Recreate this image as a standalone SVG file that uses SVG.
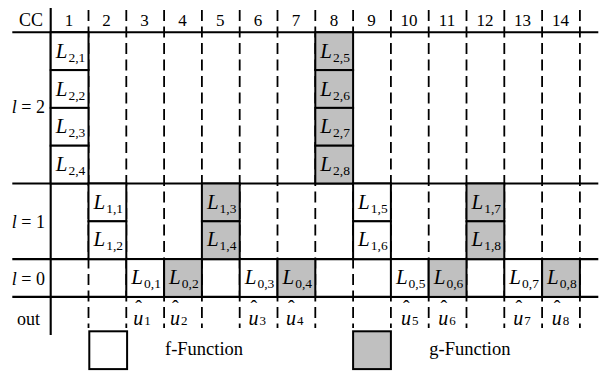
<svg xmlns="http://www.w3.org/2000/svg" width="605" height="372" viewBox="0 0 605 372">
<style>
text{font-family:"Liberation Serif","Times New Roman",serif;fill:#000}
.hd{font-size:17px;text-anchor:middle}
.lbl{font-size:18px}
.it{font-style:italic}
.cell{stroke:#000;stroke-width:2}
.f{fill:#fff}
.g{fill:#c0c0c0}
.L{font-size:21px;text-anchor:middle}
.sub{font-size:13.5px;font-style:normal}
.main{stroke:#000;stroke-width:2.1;fill:none}
.dash{stroke:#000;stroke-width:1.8;stroke-dasharray:11 5.5;fill:none}
.u{font-size:20px;font-style:italic}
.usub{font-size:13px;font-style:normal}
.hat{font-size:20px}
</style>
<rect width="605" height="372" fill="#fff"/>
<g id="grid-lines">
<path class="dash" d="M88.5 10V328M126.3 10V328M164.1 10V328M201.9 10V328M239.7 10V328M277.5 10V328M315.3 10V328M353.1 10V328M390.9 10V328M428.7 10V328M466.5 10V328M504.3 10V328M542.1 10V328M579.9 10V328"/>
<path class="main" d="M50.7 8V335M12.3 32.3H598.3M12.3 183.5H598.3M12.3 259.1H598.3M12.3 296.9H598.3"/>
</g>
<g id="header">
<text class="hd" x="31" y="25.5" style="font-size:18px">CC</text>
<text class="hd" x="69" y="25.5">1</text>
<text class="hd" x="106.5" y="25.5">2</text>
<text class="hd" x="144.5" y="25.5">3</text>
<text class="hd" x="182.5" y="25.5">4</text>
<text class="hd" x="220.3" y="25.5">5</text>
<text class="hd" x="258" y="25.5">6</text>
<text class="hd" x="296" y="25.5">7</text>
<text class="hd" x="334" y="25.5">8</text>
<text class="hd" x="371.5" y="25.5">9</text>
<text class="hd" x="409" y="25.5">10</text>
<text class="hd" x="447" y="25.5">11</text>
<text class="hd" x="485" y="25.5">12</text>
<text class="hd" x="522.5" y="25.5">13</text>
<text class="hd" x="560.5" y="25.5">14</text>
</g>
<g id="row-labels">
<text class="lbl" x="45" y="112.5" text-anchor="end"><tspan class="it">l</tspan> = 2</text>
<text class="lbl" x="45" y="227.5" text-anchor="end"><tspan class="it">l</tspan> = 1</text>
<text class="lbl" x="45" y="285" text-anchor="end"><tspan class="it">l</tspan> = 0</text>
<text class="lbl" x="17" y="325">out</text>
</g>
<g id="L2_1"><rect class="cell f" x="50.7" y="32.3" width="37.8" height="37.8"/><text class="L" x="70.5" y="57.8"><tspan class="it">L</tspan><tspan class="sub" dx="1" dy="4">2,1</tspan></text></g>
<g id="L2_2"><rect class="cell f" x="50.7" y="70.1" width="37.8" height="37.8"/><text class="L" x="70.5" y="95.6"><tspan class="it">L</tspan><tspan class="sub" dx="1" dy="4">2,2</tspan></text></g>
<g id="L2_3"><rect class="cell f" x="50.7" y="107.9" width="37.8" height="37.8"/><text class="L" x="70.5" y="133.4"><tspan class="it">L</tspan><tspan class="sub" dx="1" dy="4">2,3</tspan></text></g>
<g id="L2_4"><rect class="cell f" x="50.7" y="145.7" width="37.8" height="37.8"/><text class="L" x="70.5" y="171.2"><tspan class="it">L</tspan><tspan class="sub" dx="1" dy="4">2,4</tspan></text></g>
<g id="L2_5"><rect class="cell g" x="315.3" y="32.3" width="37.8" height="37.8"/><text class="L" x="335.1" y="57.8"><tspan class="it">L</tspan><tspan class="sub" dx="1" dy="4">2,5</tspan></text></g>
<g id="L2_6"><rect class="cell g" x="315.3" y="70.1" width="37.8" height="37.8"/><text class="L" x="335.1" y="95.6"><tspan class="it">L</tspan><tspan class="sub" dx="1" dy="4">2,6</tspan></text></g>
<g id="L2_7"><rect class="cell g" x="315.3" y="107.9" width="37.8" height="37.8"/><text class="L" x="335.1" y="133.4"><tspan class="it">L</tspan><tspan class="sub" dx="1" dy="4">2,7</tspan></text></g>
<g id="L2_8"><rect class="cell g" x="315.3" y="145.7" width="37.8" height="37.8"/><text class="L" x="335.1" y="171.2"><tspan class="it">L</tspan><tspan class="sub" dx="1" dy="4">2,8</tspan></text></g>
<g id="L1_1"><rect class="cell f" x="88.5" y="183.5" width="37.8" height="37.8"/><text class="L" x="108.3" y="208.5"><tspan class="it">L</tspan><tspan class="sub" dx="1" dy="4">1,1</tspan></text></g>
<g id="L1_2"><rect class="cell f" x="88.5" y="221.3" width="37.8" height="37.8"/><text class="L" x="108.3" y="246.3"><tspan class="it">L</tspan><tspan class="sub" dx="1" dy="4">1,2</tspan></text></g>
<g id="L1_3"><rect class="cell g" x="201.9" y="183.5" width="37.8" height="37.8"/><text class="L" x="221.7" y="208.5"><tspan class="it">L</tspan><tspan class="sub" dx="1" dy="4">1,3</tspan></text></g>
<g id="L1_4"><rect class="cell g" x="201.9" y="221.3" width="37.8" height="37.8"/><text class="L" x="221.7" y="246.3"><tspan class="it">L</tspan><tspan class="sub" dx="1" dy="4">1,4</tspan></text></g>
<g id="L1_5"><rect class="cell f" x="353.1" y="183.5" width="37.8" height="37.8"/><text class="L" x="372.9" y="208.5"><tspan class="it">L</tspan><tspan class="sub" dx="1" dy="4">1,5</tspan></text></g>
<g id="L1_6"><rect class="cell f" x="353.1" y="221.3" width="37.8" height="37.8"/><text class="L" x="372.9" y="246.3"><tspan class="it">L</tspan><tspan class="sub" dx="1" dy="4">1,6</tspan></text></g>
<g id="L1_7"><rect class="cell g" x="466.5" y="183.5" width="37.8" height="37.8"/><text class="L" x="486.3" y="208.5"><tspan class="it">L</tspan><tspan class="sub" dx="1" dy="4">1,7</tspan></text></g>
<g id="L1_8"><rect class="cell g" x="466.5" y="221.3" width="37.8" height="37.8"/><text class="L" x="486.3" y="246.3"><tspan class="it">L</tspan><tspan class="sub" dx="1" dy="4">1,8</tspan></text></g>
<g id="L0_1"><rect class="cell f" x="126.3" y="259.1" width="37.8" height="37.8"/><text class="L" x="146.1" y="284.1"><tspan class="it">L</tspan><tspan class="sub" dx="1" dy="4">0,1</tspan></text></g>
<g id="L0_2"><rect class="cell g" x="164.1" y="259.1" width="37.8" height="37.8"/><text class="L" x="183.9" y="284.1"><tspan class="it">L</tspan><tspan class="sub" dx="1" dy="4">0,2</tspan></text></g>
<g id="L0_3"><rect class="cell f" x="239.7" y="259.1" width="37.8" height="37.8"/><text class="L" x="259.5" y="284.1"><tspan class="it">L</tspan><tspan class="sub" dx="1" dy="4">0,3</tspan></text></g>
<g id="L0_4"><rect class="cell g" x="277.5" y="259.1" width="37.8" height="37.8"/><text class="L" x="297.3" y="284.1"><tspan class="it">L</tspan><tspan class="sub" dx="1" dy="4">0,4</tspan></text></g>
<g id="L0_5"><rect class="cell f" x="390.9" y="259.1" width="37.8" height="37.8"/><text class="L" x="410.7" y="284.1"><tspan class="it">L</tspan><tspan class="sub" dx="1" dy="4">0,5</tspan></text></g>
<g id="L0_6"><rect class="cell g" x="428.7" y="259.1" width="37.8" height="37.8"/><text class="L" x="448.5" y="284.1"><tspan class="it">L</tspan><tspan class="sub" dx="1" dy="4">0,6</tspan></text></g>
<g id="L0_7"><rect class="cell f" x="504.3" y="259.1" width="37.8" height="37.8"/><text class="L" x="524.1" y="284.1"><tspan class="it">L</tspan><tspan class="sub" dx="1" dy="4">0,7</tspan></text></g>
<g id="L0_8"><rect class="cell g" x="542.1" y="259.1" width="37.8" height="37.8"/><text class="L" x="561.9" y="284.1"><tspan class="it">L</tspan><tspan class="sub" dx="1" dy="4">0,8</tspan></text></g>
<g id="outputs">
<text><tspan class="hat" x="135.3" y="315">ˆ</tspan><tspan class="u" x="133.2" y="325">u</tspan><tspan class="usub" dx="1">1</tspan></text>
<text><tspan class="hat" x="172.1" y="315">ˆ</tspan><tspan class="u" x="170" y="325">u</tspan><tspan class="usub" dx="1">2</tspan></text>
<text><tspan class="hat" x="250.6" y="315">ˆ</tspan><tspan class="u" x="248.5" y="325">u</tspan><tspan class="usub" dx="1">3</tspan></text>
<text><tspan class="hat" x="288.1" y="315">ˆ</tspan><tspan class="u" x="286" y="325">u</tspan><tspan class="usub" dx="1">4</tspan></text>
<text><tspan class="hat" x="403.1" y="315">ˆ</tspan><tspan class="u" x="401" y="325">u</tspan><tspan class="usub" dx="1">5</tspan></text>
<text><tspan class="hat" x="440.4" y="315">ˆ</tspan><tspan class="u" x="438.3" y="325">u</tspan><tspan class="usub" dx="1">6</tspan></text>
<text><tspan class="hat" x="515.4" y="315">ˆ</tspan><tspan class="u" x="513.3" y="325">u</tspan><tspan class="usub" dx="1">7</tspan></text>
<text><tspan class="hat" x="553.8" y="315">ˆ</tspan><tspan class="u" x="551.7" y="325">u</tspan><tspan class="usub" dx="1">8</tspan></text>
</g>
<g id="legend-f"><rect class="cell f" x="89.3" y="331.3" width="37.8" height="37.8"/><text class="lbl" x="165" y="355" style="font-size:18.5px">f-Function</text></g>
<g id="legend-g"><rect class="cell g" x="353.1" y="331.3" width="37.8" height="37.8"/><text class="lbl" x="429.3" y="355" style="font-size:18.5px">g-Function</text></g>
</svg>
